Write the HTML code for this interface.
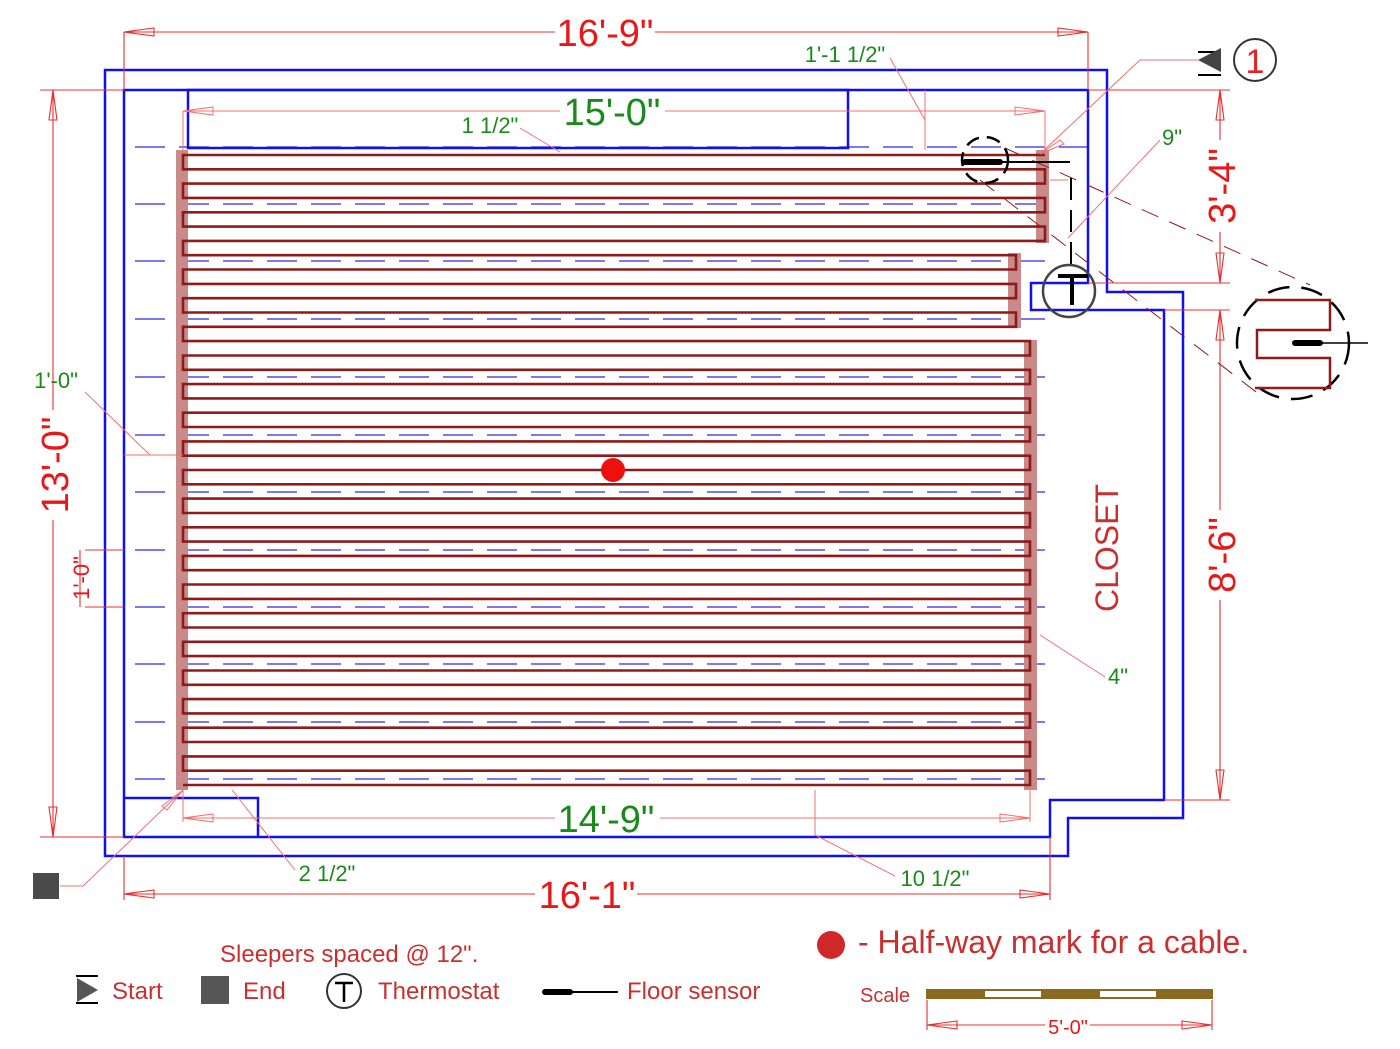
<!DOCTYPE html>
<html><head><meta charset="utf-8"><style>html,body{margin:0;padding:0;background:#fff}svg{display:block}text{font-family:"Liberation Sans",sans-serif}</style></head>
<body>
<svg width="1400" height="1049" viewBox="0 0 1400 1049" xmlns="http://www.w3.org/2000/svg">
<g stroke="#2a2ae0" stroke-width="1.3" stroke-dasharray="30 14" fill="none">
<path d="M135 147H1088M135 204H1050M135 261H1050M135 319H1050M135 377H1050M135 435H1050M135 492H1050M135 550H1050M135 607H1050M135 664H1050M135 722H1050M135 779H1050"/>
</g>
<g fill="#c98a8a">
<rect x="176" y="150" width="12" height="640"/>
<rect x="1036" y="150" width="13" height="93"/>
<rect x="1008" y="253" width="13" height="75"/>
<rect x="1024" y="340" width="13" height="450"/>
</g>
<path fill="none" stroke="#8e1b1b" stroke-width="2.6" d="M1045,155 H183 V169.3 H1045 V183.6 H183 V197.9 H1045 V212.3 H183 V226.6 H1045 V240.9 H183 V255.2 H1016 V269.5 H183 V283.9 H1016 V298.2 H183 V312.5 H1016 V326.8 H183 V341.1 H1030 V355.5 H183 V369.8 H1030 V384.1 H183 V398.4 H1030 V412.7 H183 V427 H1030 V441.4 H183 V455.7 H1030 V470 H183 V484.3 H1030 V498.6 H183 V513 H1030 V527.3 H183 V541.6 H1030 V555.9 H183 V570.2 H1030 V584.5 H183 V598.9 H1030 V613.2 H183 V627.5 H1030 V641.8 H183 V656.1 H1030 V670.5 H183 V684.8 H1030 V699.1 H183 V713.4 H1030 V727.7 H183 V742 H1030 V756.4 H183 V770.7 H1030 V785 H183"/>
<g fill="none" stroke="#1010e8" stroke-width="2.5">
<path d="M105 70H1107V292H1183V818H1068V856H105Z"/>
<path d="M124 90H1088V283H1031V310H1164V800H1050V837H124Z"/>
<rect x="188" y="90" width="660" height="58"/>
<path d="M124 798H258V837"/>
</g>
<g stroke="#e83030" stroke-width="1.1" fill="none">
<path d="M124 32H555M655 32H1088M124 32V90M1088 32V90"/>
<polygon points="124,32 154,28 154,36"/><polygon points="1088,32 1058,28 1058,36"/>
<path d="M53 90V410M53 520V837M40 90H124M40 837H124"/>
<polygon points="53,90 49,120 57,120"/><polygon points="53,837 49,807 57,807"/>
<path d="M124 894H535M637 894H1050M124 856V900M1050 837V900"/>
<polygon points="124,894 154,890 154,898"/><polygon points="1050,894 1020,890 1020,898"/>
<path d="M1220 90V140M1220 232V283M1088 90H1230M1088 283H1230"/>
<polygon points="1220,90 1216,120 1224,120"/><polygon points="1220,283 1216,253 1224,253"/>
<path d="M1220 310V510M1220 600V800M1164 310H1230M1164 800H1230"/>
<polygon points="1220,310 1216,340 1224,340"/><polygon points="1220,800 1216,770 1224,770"/>
<path d="M1212 1000V1030M927 1000V1030M927 1025H1045M1090 1025H1212"/>
<polygon points="927,1025 957,1021 957,1029"/><polygon points="1212,1025 1182,1021 1182,1029"/>
<path d="M85 550H124M85 607H124M80 550V607"/>
</g>
<g stroke="#f07070" stroke-width="1" fill="none">
<path d="M183 111H560M665 111H1045M183 111V150M1045 111V150"/>
<polygon points="183,111 213,107 213,115"/><polygon points="1045,111 1015,107 1015,115"/>
<path d="M183 818H555M660 818H1030M183 790V822M1030 790V822"/>
<polygon points="183,818 213,814 213,822"/><polygon points="1030,818 1000,814 1000,822"/>
<path d="M925 90V150M890 58L925 120"/>
<path d="M520 128L560 152"/>
<path d="M1040 154L1140 60H1198"/><polygon points="1040,154 1060,140 1064,144"/>
<path d="M1068 238L1160 140M1050 180H1068"/>
<path d="M85 392L150 455M124 455H183"/>
<path d="M1040 635L1105 677"/>
<path d="M232 790L295 870"/>
<path d="M815 790V835L895 876"/>
<path d="M60 886H83L183 790"/><polygon points="183,790 167,810 162,806"/>
</g>
<g stroke="#8e1b1b" stroke-width="1" stroke-dasharray="18 12" fill="none">
<path d="M1005 148L1310 285M980 180L1260 395"/>
</g>
<g fill="none" stroke="#000">
<circle cx="985" cy="160" r="23" stroke-width="2.5" stroke-dasharray="14 8"/>
<path d="M965 162H1000" stroke-width="6" stroke-linecap="round"/>
<path d="M1000 162H1070" stroke-width="2"/>
<path d="M1071 178V283" stroke-width="2" stroke-dasharray="22 10"/>
<circle cx="1069" cy="291" r="26" stroke="#444" stroke-width="2.5"/>
<path d="M1058 276H1088M1072 276V305" stroke-width="4"/>
<circle cx="1293" cy="343" r="56" stroke-width="2.5" stroke-dasharray="22 12"/>
<path d="M1255 300H1330V330H1257V358H1330V388H1255" stroke="#8e1b1b" stroke-width="2.5"/>
<path d="M1295 343H1320" stroke-width="6" stroke-linecap="round"/>
<path d="M1320 343H1368" stroke-width="1.5"/>
</g>
<path d="M1198 52H1221M1198 75H1221" stroke="#000" stroke-width="2"/>
<polygon points="1198,60 1221,48 1221,72" fill="#444"/>
<circle cx="1255" cy="60" r="21" fill="none" stroke="#333" stroke-width="2"/>
<text x="1255" y="73" font-size="34" fill="#e82020" text-anchor="middle">1</text>
<rect x="33" y="873" width="26" height="26" fill="#4a4a4a"/>
<circle cx="613" cy="470" r="12" fill="#ee1010"/>
<g fill="#e81818" font-size="38" text-anchor="middle">
<text x="605" y="46">16'-9"</text>
<text x="587" y="908">16'-1"</text>
<text transform="translate(68,465) rotate(-90)">13'-0"</text>
<text transform="translate(1235,186) rotate(-90)">3'-4"</text>
<text transform="translate(1235,555) rotate(-90)">8'-6"</text>
</g>
<text transform="translate(89,578) rotate(-90)" fill="#e81818" font-size="22" text-anchor="middle">1'-0"</text>
<g fill="#1a8a1a" text-anchor="middle">
<text x="612" y="125" font-size="38">15'-0"</text>
<text x="606" y="832" font-size="38">14'-9"</text>
<text x="845" y="62" font-size="22">1'-1 1/2"</text>
<text x="490" y="133" font-size="22">1 1/2"</text>
<text x="1172" y="145" font-size="22">9"</text>
<text x="56" y="388" font-size="22">1'-0"</text>
<text x="1118" y="684" font-size="22">4"</text>
<text x="327" y="881" font-size="22">2 1/2"</text>
<text x="935" y="886" font-size="22">10 1/2"</text>
</g>
<text transform="translate(1118,548) rotate(-90)" fill="#c83030" font-size="32" text-anchor="middle">CLOSET</text>
<g fill="#c83030" font-size="24">
<text x="220" y="962">Sleepers spaced @ 12".</text>
<text x="112" y="999">Start</text>
<text x="243" y="999">End</text>
<text x="378" y="999">Thermostat</text>
<text x="627" y="999">Floor sensor</text>
<text x="858" y="953" font-size="32">- Half-way mark for a cable.</text>
<text x="860" y="1002" font-size="20">Scale</text>
<text x="1068" y="1034" font-size="20" text-anchor="middle" fill="#e81818">5'-0"</text>
</g>
<circle cx="831" cy="945" r="14" fill="#d02828"/>
<path d="M76 976H98M76 1003H98" stroke="#000" stroke-width="2"/>
<polygon points="77,978 98,990 77,1002" fill="#555"/>
<rect x="201" y="976" width="28" height="28" fill="#555"/>
<circle cx="344" cy="991" r="17" fill="none" stroke="#333" stroke-width="2"/>
<path d="M335 983H353M344 983V1002" stroke="#000" stroke-width="2.5"/>
<path d="M545 992H570" stroke="#000" stroke-width="6" stroke-linecap="round"/>
<path d="M570 992H618" stroke="#000" stroke-width="2"/>
<rect x="926" y="989" width="287" height="10" fill="#8a6a20"/>
<rect x="985" y="991" width="56" height="6" fill="#fff"/>
<rect x="1100" y="991" width="56" height="6" fill="#fff"/>
</svg>
</body></html>
